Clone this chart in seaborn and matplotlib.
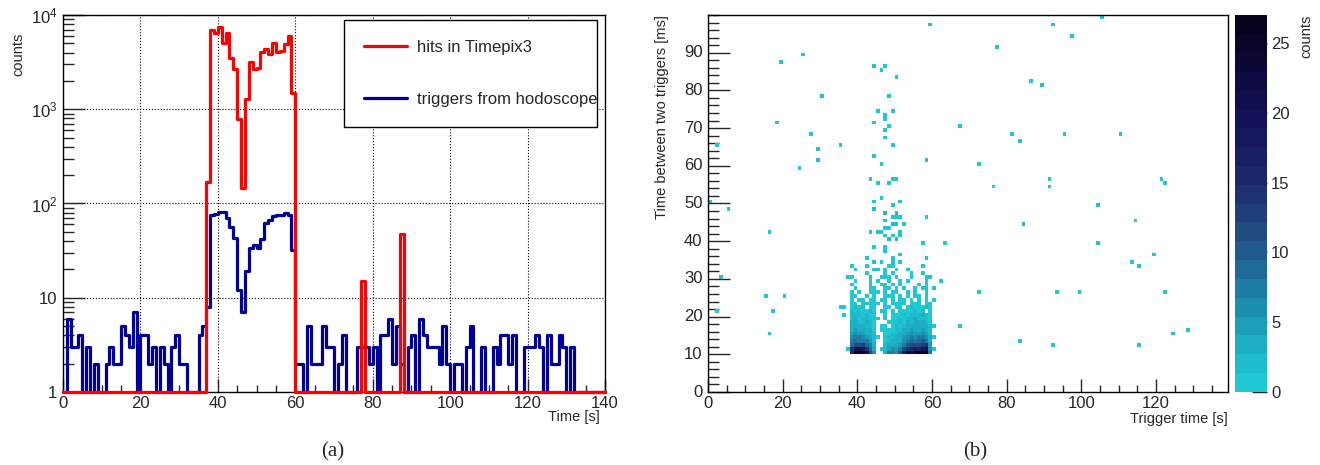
import numpy as np
import pandas as pd
import matplotlib
matplotlib.use("Agg")
import matplotlib.pyplot as plt
from matplotlib.colors import ListedColormap, LinearSegmentedColormap
from matplotlib.lines import Line2D
from matplotlib.ticker import MultipleLocator, FixedLocator, LogLocator, NullFormatter
import seaborn as sns


#########################################
# Data
#########################################

# 1 s bins from 0 to 140 s
TIME_EDGES = np.arange(0, 141)

HITS_TPX3 = [
    0, 0, 0, 0, 0, 0, 0, 0, 0, 0, 0, 0, 0, 0, 0, 0, 0, 0, 0, 0,
    0, 0, 0, 0, 0, 0, 0, 0, 0, 0, 0, 0, 0, 0, 0, 0, 0, 171, 6970, 6400,
    7450, 5030, 6510, 3470, 2680, 792, 146, 1290, 3170, 2680, 2750, 4030, 4370, 3850, 5100, 4030, 4190, 4900, 6000, 1480,
    0, 0, 0, 0, 0, 0, 0, 0, 0, 0, 0, 0, 0, 0, 0, 0, 0, 15, 0, 0,
    0, 0, 0, 0, 0, 0, 0, 48, 0, 0, 0, 0, 0, 0, 0, 0, 0, 0, 0, 0,
    0, 0, 0, 0, 0, 0, 0, 0, 0, 0, 0, 0, 0, 0, 0, 0, 0, 0, 0, 0,
    0, 0, 0, 0, 0, 0, 0, 0, 0, 0, 0, 0, 0, 0, 0, 0, 0, 0, 0, 0,
]

HODO_TRIGGERS = [
    0, 6, 3, 3, 4, 0, 3, 0, 2, 0, 0, 2, 3, 2, 2, 5, 4, 3, 7, 0,
    4, 4, 2, 3, 0, 3, 2, 0, 3, 4, 2, 2, 0, 0, 0, 4, 5, 8, 76, 78,
    82, 82, 70, 57, 43, 12, 7, 19, 34, 36, 34, 42, 62, 67, 73, 75, 76, 79, 76, 32,
    2, 2, 0, 5, 2, 2, 2, 5, 3, 3, 0, 2, 4, 0, 0, 0, 3, 3, 3, 2,
    3, 0, 4, 4, 6, 2, 5, 2, 0, 3, 4, 0, 6, 4, 3, 3, 3, 2, 5, 2,
    0, 2, 2, 0, 3, 5, 0, 0, 3, 0, 0, 3, 2, 4, 4, 2, 4, 0, 0, 3,
    3, 3, 4, 3, 0, 4, 2, 2, 4, 3, 0, 3, 0, 0, 0, 0, 0, 0, 0, 0,
]

# 2D histogram: trigger time (1 s bins) vs time between triggers (1 ms bins)
# dense core, rows are 10..34 ms, columns are 36..62 s, counts in base 36 ('.' = empty)
DENSE_T0, DENSE_V0 = 36, 10
DENSE_ROWS = [
    "..fqpolc6..3786ahmjoqpr8...",
    ".1ekjie94.125657befhgij61..",
    "..9cbd973..234458acbcde5...",
    "..7988752..1233467989a84...",
    "..67765421.12233567678631..",
    "..5655432..1122345655652...",
    "..4544331.11112234544542...",
    "..3433221.11.121234344321..",
    "..3322321...111213233321...",
    "..23122111.1.11212232221...",
    "1.2221211..1.11121222321...",
    "..2121121.11.1.1111212.1...",
    "1.1212.11..11.11.1211121...",
    "..11.11111.1.1111.111.11...",
    "..1.11.11.11.1.11.1.1.1.1..",
    "..11..1.1..111.1.1.11.1....",
    "..1.1..111.1.11..1.1..1....",
    "...1...11..11.1.1..1.11.1..",
    "..1....1..11.1.1....1.1....",
    "...1...1.1..1..1.1....1...1",
    ".11....1..111.1...1...11...",
    "......1....1.1....1..1.....",
    "...1....11.1..1..1.........",
    "..1...1.....11.......1.....",
    "........1.1..1.1...........",
]

# scattered cells: (trigger time bin, interval bin, count)
SPARSE_CELLS = [
    (0, 50, 1), (2, 65, 1), (3, 30, 1), (2, 21, 1), (5, 48, 1), (15, 25, 1), (20, 25, 1),
    (17, 21, 1), (16, 15, 1), (16, 42, 1), (18, 71, 1), (19, 87, 1), (25, 89, 1), (30, 78, 1),
    (27, 68, 1), (29, 64, 1), (29, 61, 1), (24, 59, 1), (35, 65, 1), (35, 22, 1), (63, 39, 1),
    (92, 97, 1), (105, 99, 1), (97, 94, 1), (77, 91, 1), (86, 82, 1), (89, 81, 1), (67, 70, 1),
    (81, 68, 1), (95, 68, 1), (110, 68, 1), (83, 66, 1), (72, 60, 1), (91, 56, 1), (91, 54, 1),
    (76, 54, 1), (121, 56, 1), (122, 55, 1), (104, 49, 1), (114, 45, 1), (84, 44, 2), (104, 39, 1),
    (119, 36, 1), (113, 34, 1), (115, 33, 1), (72, 26, 1), (93, 26, 1), (99, 26, 1), (122, 26, 1),
    (67, 17, 1), (83, 13, 1), (92, 12, 1), (115, 12, 1), (124, 15, 1), (128, 16, 1),
    (59, 97, 1), (44, 86, 1), (47, 86, 1), (46, 85, 1), (50, 83, 1), (48, 78, 1), (45, 74, 1),
    (49, 74, 1), (47, 73, 1), (47, 72, 1), (44, 71, 1), (48, 70, 1), (47, 69, 1), (47, 67, 1),
    (49, 65, 1), (44, 62, 1), (58, 61, 1), (46, 60, 1), (43, 56, 1), (45, 55, 1), (48, 55, 1),
    (49, 56, 1), (50, 56, 1), (44, 50, 1), (46, 51, 1), (49, 49, 1), (51, 50, 1), (44, 48, 2),
    (47, 47, 2), (50, 47, 2), (49, 46, 1), (50, 46, 1), (51, 46, 1), (58, 46, 1), (47, 45, 1),
    (49, 44, 2), (50, 44, 2), (52, 44, 1), (47, 43, 1), (48, 43, 1), (43, 42, 1), (45, 42, 1),
    (46, 42, 1), (51, 42, 1), (51, 41, 1), (47, 41, 1), (49, 41, 1), (48, 40, 2), (50, 40, 2),
    (57, 39, 1), (44, 38, 1), (47, 38, 1), (47, 37, 1), (51, 36, 1), (42, 35, 1), (49, 35, 1),
    (58, 35, 1),
]

N_TIME_BINS, N_INTERVAL_BINS = 140, 100
Z_MAX = 27

LOG_TICKS = [1, 10, 100, 1000, 10000]
LOG_TICK_LABELS = ['1', '10', '$10^2$', '$10^3$', '$10^4$']

RED = '#ff0000'
NAVY = '#000099'
DEEP_ANCHORS = ['#1fc8d3', '#1b9cb6', '#1e6f9b', '#224b80', '#1d2a6a', '#16155c', '#0e0a45', '#05041c']
DEEP_POS = [0.0, 0.17, 0.3, 0.42, 0.56, 0.7, 0.84, 1.0]


def build_matrix():
    mat = np.zeros((N_INTERVAL_BINS, N_TIME_BINS))
    for r, row in enumerate(DENSE_ROWS):
        for c, ch in enumerate(row):
            if ch != '.':
                mat[DENSE_V0 + r, DENSE_T0 + c] += int(ch, 36)
    for t, v, n in SPARSE_CELLS:
        mat[v, t] += n
    return pd.DataFrame(mat)


def step_frame(counts):
    """Bin edges with the counts held over each bin (last one repeated to close the step)."""
    vals = np.maximum(np.asarray(counts, dtype=float), 1)  # empty bins sit on the frame bottom
    return pd.DataFrame({'t': TIME_EDGES, 'n': np.append(vals, vals[-1])})


#########################################
# Figure
#########################################

sns.set_style("white")
plt.rcParams['font.family'] = ['Liberation Sans', 'DejaVu Sans']
plt.rcParams['mathtext.fontset'] = 'custom'
plt.rcParams['mathtext.rm'] = 'Liberation Sans'
plt.rcParams['mathtext.it'] = 'Liberation Sans:italic'

W, H = 1320, 465
fig = plt.figure(figsize=(W / 100, H / 100), dpi=100)

# ---- (a) time histogram ----
ax1 = fig.add_axes([63 / W, 73 / H, 542 / W, 377 / H])
# triggers first so the Timepix3 line sits on top, as in the original
sns.lineplot(data=step_frame(HODO_TRIGGERS), x='t', y='n', drawstyle='steps-post', color=NAVY,
             lw=2.3, estimator=None, errorbar=None, ax=ax1)
sns.lineplot(data=step_frame(HITS_TPX3), x='t', y='n', drawstyle='steps-post', color=RED,
             lw=2.3, estimator=None, errorbar=None, ax=ax1)
for ln in ax1.lines:
    ln.set_clip_on(False)
    ln.set_zorder(3)
ax1.set_yscale('log')
ax1.set_xlim(0, 140)
ax1.set_ylim(1, 1e4)
ax1.set_xlabel('')
ax1.set_ylabel('')
ax1.set_xticks(range(0, 141, 20))
ax1.set_xticklabels([str(v) for v in range(0, 141, 20)])
ax1.xaxis.set_minor_locator(MultipleLocator(5))
ax1.yaxis.set_major_locator(FixedLocator(LOG_TICKS))
ax1.set_yticklabels(LOG_TICK_LABELS)
ax1.yaxis.set_minor_locator(LogLocator(base=10, subs=np.arange(2, 10)))
ax1.yaxis.set_minor_formatter(NullFormatter())
ax1.tick_params(axis='x', which='major', direction='in', length=9.5, width=1, labelsize=12, pad=3,
                bottom=True)
ax1.tick_params(axis='x', which='minor', direction='in', length=4.7, width=1, bottom=True)
ax1.tick_params(axis='y', which='major', direction='in', length=16, width=1, labelsize=12, pad=4,
                left=True)
ax1.tick_params(axis='y', which='minor', direction='in', length=8, width=1, left=True)
ax1.grid(True, which='major', ls=':', color='black', lw=0.8)
for sp in ax1.spines.values():
    sp.set_visible(True)
    sp.set_color('black')
    sp.set_linewidth(1)

handles = [Line2D([], [], color=RED, lw=2.3), Line2D([], [], color=NAVY, lw=2.3)]
leg = ax1.legend(handles, ['hits in Timepix3', 'triggers from hodoscope'],
                 loc='upper left', bbox_to_anchor=(0.518, 0.987, 0.467, 0), mode='expand',
                 fontsize=12, labelspacing=2.2, borderpad=1.2, handlelength=2.6,
                 handletextpad=0.6, borderaxespad=0, frameon=True, fancybox=False,
                 framealpha=1, edgecolor='black')
leg.get_frame().set_linewidth(1)
leg.set_zorder(5)

fig.text(18 / W, 1 - 33 / H, 'counts', rotation=90, ha='center', va='top', fontsize=10.5)
fig.text(600 / W, 1 - 417 / H, 'Time [s]', ha='right', va='center', fontsize=10.5)
fig.text(333 / W, 1 - 452 / H, '(a)', ha='center', va='center', fontsize=15,
         family=['Liberation Serif', 'DejaVu Serif'])

# ---- (b) 2D histogram ----
deep = LinearSegmentedColormap.from_list('deep', list(zip(DEEP_POS, DEEP_ANCHORS)))
deep20 = ListedColormap(deep(np.linspace(0, 1, 20)))

mat = build_matrix()
ax2 = fig.add_axes([708 / W, 73 / H, 520 / W, 377 / H])
cax = fig.add_axes([1235 / W, 73 / H, 32 / W, 377 / H])
sns.heatmap(mat, mask=mat == 0, cmap=deep20, vmin=0, vmax=Z_MAX, ax=ax2, cbar_ax=cax,
            xticklabels=False, yticklabels=False)
ax2.set_ylim(0, 100)
ax2.set_xlim(0, 139.3)
ax2.set_xlabel('')
ax2.set_ylabel('')
ax2.set_xticks(range(0, 140, 20))
ax2.set_xticklabels([str(v) for v in range(0, 140, 20)], rotation=0)
ax2.set_yticks(range(0, 100, 10))
ax2.set_yticklabels([str(v) for v in range(0, 100, 10)], rotation=0, va='center')
ax2.xaxis.set_minor_locator(MultipleLocator(5))
ax2.yaxis.set_minor_locator(MultipleLocator(2))
ax2.tick_params(axis='x', which='major', direction='in', length=9.5, width=1, labelsize=12, pad=3,
                bottom=True)
ax2.tick_params(axis='x', which='minor', direction='in', length=4.7, width=1, bottom=True)
ax2.tick_params(axis='y', which='major', direction='in', length=16, width=1, labelsize=12, pad=4,
                left=True)
ax2.tick_params(axis='y', which='minor', direction='in', length=8, width=1, left=True)
for sp in ax2.spines.values():
    sp.set_visible(True)
    sp.set_color('black')
    sp.set_linewidth(1)

cbar = ax2.collections[0].colorbar
cbar.outline.set_visible(False)
cbar.set_ticks(range(0, 26, 5))
cax.tick_params(direction='in', length=11, width=1, labelsize=12, pad=3, right=True)

fig.text(662 / W, 1 - 15 / H, 'Time between two triggers [ms]', rotation=90, ha='center',
         va='top', fontsize=10.5)
fig.text(1228 / W, 1 - 419 / H, 'Trigger time [s]', ha='right', va='center', fontsize=10.5)
fig.text(1306 / W, 1 - 15 / H, 'counts', rotation=90, ha='center', va='top', fontsize=10.5)
fig.text(975 / W, 1 - 452 / H, '(b)', ha='center', va='center', fontsize=15,
         family=['Liberation Serif', 'DejaVu Serif'])

fig.savefig('out.png', dpi=100)
